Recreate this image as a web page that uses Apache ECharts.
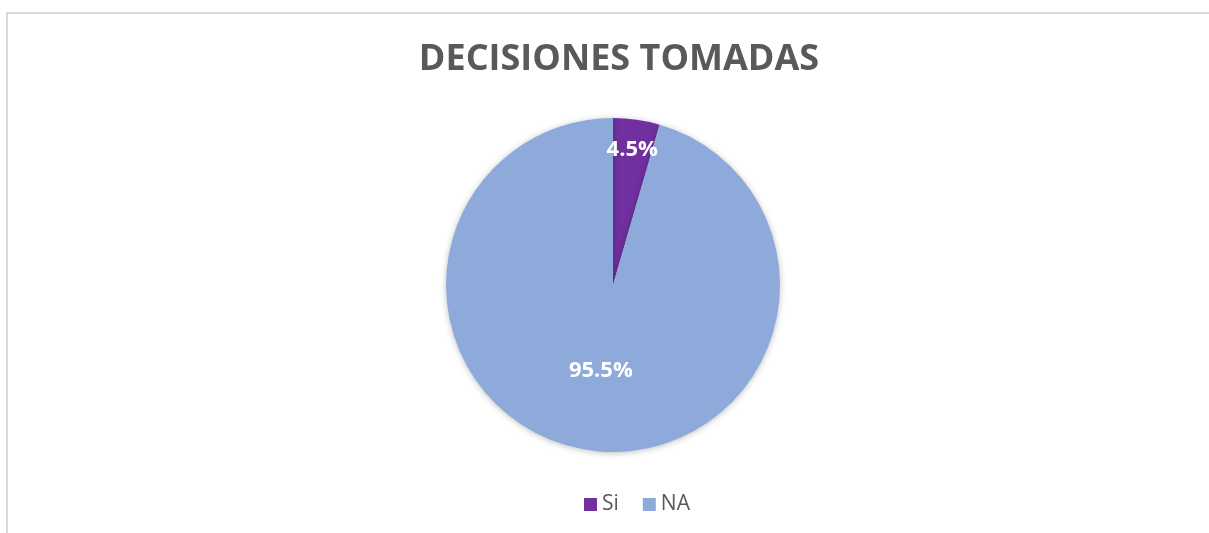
<!DOCTYPE html>
<html>
<head>
<meta charset="utf-8">
<script src="https://cdn.jsdelivr.net/npm/echarts@6/dist/echarts.min.js"></script>
<style>
  html, body { margin: 0; padding: 0; background: #ffffff; }
  #frame {
    position: absolute; left: 6px; top: 12px; right: 0; bottom: 0;
    border-top: 2px solid #d9d9d9; border-left: 2px solid #d9d9d9;
  }
  #chart { position: absolute; left: 0; top: 0; width: 1209px; height: 533px; }
</style>
</head>
<body>
<div id="frame"></div>
<div id="chart"></div>
<script>
// categorias y valores (%)
const categories = ['Si', 'NA'];
const values = [4.5, 95.5];
const colors = ['#7030a0', '#8eaadb'];

const pieData = categories.map((name, i) => ({ name: name, value: values[i] }));

let chart = echarts.init(document.getElementById('chart'));
let labelStyle = {
  color: '#ffffff',
  fontFamily: 'Open Sans',
  fontWeight: 'bold',
  fontSize: 22,
  formatter: p => p.value.toFixed(1) + '%'
};

let option = {
  color: colors,
  title: {
    text: 'DECISIONES TOMADAS',
    left: 614,
    textAlign: 'center',
    top: 37,
    textStyle: { fontFamily: 'Open Sans', fontWeight: 'bold', fontSize: 36, color: '#595959' }
  },
  legend: {
    data: categories,
    bottom: 13,
    left: 579,
    icon: 'rect',
    itemWidth: 13,
    itemHeight: 13,
    itemGap: 24,
    textStyle: { fontFamily: 'Open Sans', fontSize: 21, color: '#595959' }
  },
  series: [
    {
      type: 'pie',
      center: [613, 285],
      radius: [0, 167],
      startAngle: 90,
      clockwise: true,
      animation: false,
      data: pieData.map((d, i) => ({
        name: d.name,
        value: d.value,
        label: { show: i === 1, position: 'inside', ...labelStyle }
      })),
      labelLine: { show: false },
      itemStyle: { borderWidth: 0, shadowBlur: 6, shadowColor: 'rgba(0,0,0,0.25)', shadowOffsetY: 1 },
      emphasis: { disabled: true }
    },
    {
      // solo para la etiqueta del segmento pequeño, cerca del borde
      type: 'pie',
      center: [613, 285],
      radius: [100, 167],
      startAngle: 90,
      clockwise: true,
      silent: true,
      animation: false,
      data: pieData.map((d, i) => ({
        name: d.name,
        value: d.value,
        label: { show: i === 0, position: 'inside', ...labelStyle }
      })),
      labelLine: { show: false },
      itemStyle: { color: 'rgba(0,0,0,0)' },
      emphasis: { disabled: true }
    }
  ]
};

chart.setOption(option);
window.addEventListener('resize', () => {
  chart.resize();
});
</script>
</body>
</html>
